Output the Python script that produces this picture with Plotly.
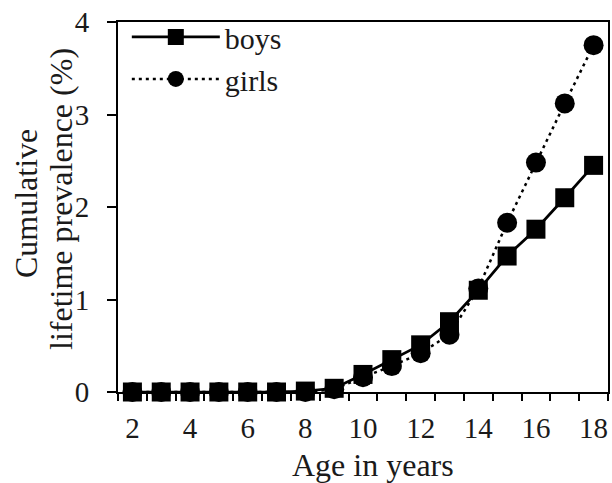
import plotly.graph_objects as go

ages = list(range(2, 19))
boys = [0, 0, 0, 0, 0, 0, 0.01, 0.04, 0.19, 0.35, 0.51, 0.76, 1.10, 1.47, 1.76, 2.10, 2.45]
girls = [0, 0, 0, 0, 0, 0, 0, 0.03, 0.16, 0.28, 0.42, 0.62, 1.12, 1.83, 2.48, 3.12, 3.75]
x_ticks = [2, 4, 6, 8, 10, 12, 14, 16, 18]
y_ticks = [0, 1, 2, 3, 4]

FONT = "Liberation Serif, Times New Roman, serif"
TXT = "#1a1a1a"

fig = go.Figure()
fig.add_trace(go.Scatter(
    x=ages, y=girls, name="girls", mode="lines+markers",
    line=dict(color="black", width=2.5, dash="3px,4px"),
    marker=dict(symbol="circle", size=20, color="black"),
    cliponaxis=False,
))
fig.add_trace(go.Scatter(
    x=ages, y=boys, name="boys", mode="lines+markers",
    line=dict(color="black", width=2.7),
    marker=dict(symbol="square", size=19, color="black"),
    cliponaxis=False,
))

fig.update_layout(
    width=612, height=483,
    margin=dict(l=118, r=4, t=22, b=91, autoexpand=False),
    plot_bgcolor="white", paper_bgcolor="white",
    font=dict(family=FONT, size=29, color=TXT),
    showlegend=True,
    legend=dict(x=0.018, y=1.03, xanchor="left", yanchor="top",
                traceorder="reversed", bgcolor="rgba(0,0,0,0)",
                font=dict(size=30, color=TXT), itemwidth=88, tracegroupgap=0),
    xaxis=dict(
        range=[1.5, 18.5], tickvals=x_ticks, ticks="",
        showline=True, linecolor="black", linewidth=2, mirror=True,
        showgrid=False, zeroline=False, automargin=False,
        minor=dict(ticks="outside", tick0=1.5, dtick=1, ticklen=7,
                   tickcolor="black", tickwidth=1.5, showgrid=False),
        ticklabelstandoff=9, ticklabeloverflow="allow",
        tickfont=dict(size=29, color=TXT),
    ),
    yaxis=dict(
        range=[0, 4], tickvals=y_ticks, ticks="outside", ticklen=9,
        tickcolor="black", tickwidth=1.5,
        showline=True, linecolor="black", linewidth=2, mirror=True,
        showgrid=False, zeroline=False, automargin=False,
        ticklabelstandoff=12, ticklabeloverflow="allow",
        tickfont=dict(size=29, color=TXT),
    ),
    annotations=[
        dict(text="Cumulative", xref="paper", yref="paper", x=0, y=0.5,
             xanchor="center", yanchor="middle", textangle=-90, showarrow=False,
             xshift=-92, yshift=3, font=dict(size=32, color=TXT)),
        dict(text="lifetime prevalence (%)", xref="paper", yref="paper", x=0, y=0.5,
             xanchor="center", yanchor="middle", textangle=-90, showarrow=False,
             xshift=-57, yshift=8, font=dict(size=32, color=TXT)),
        dict(text="Age in years", xref="paper", yref="paper", x=0.5, y=0,
             xanchor="center", yanchor="middle", showarrow=False,
             xshift=10, yshift=-73, font=dict(size=32, color=TXT)),
    ],
)

# remove the browser's default 8px page margin so the figure fills the window
fig.write_html("out.html", config={"displayModeBar": False},
               post_script="document.body.style.margin='0';")
